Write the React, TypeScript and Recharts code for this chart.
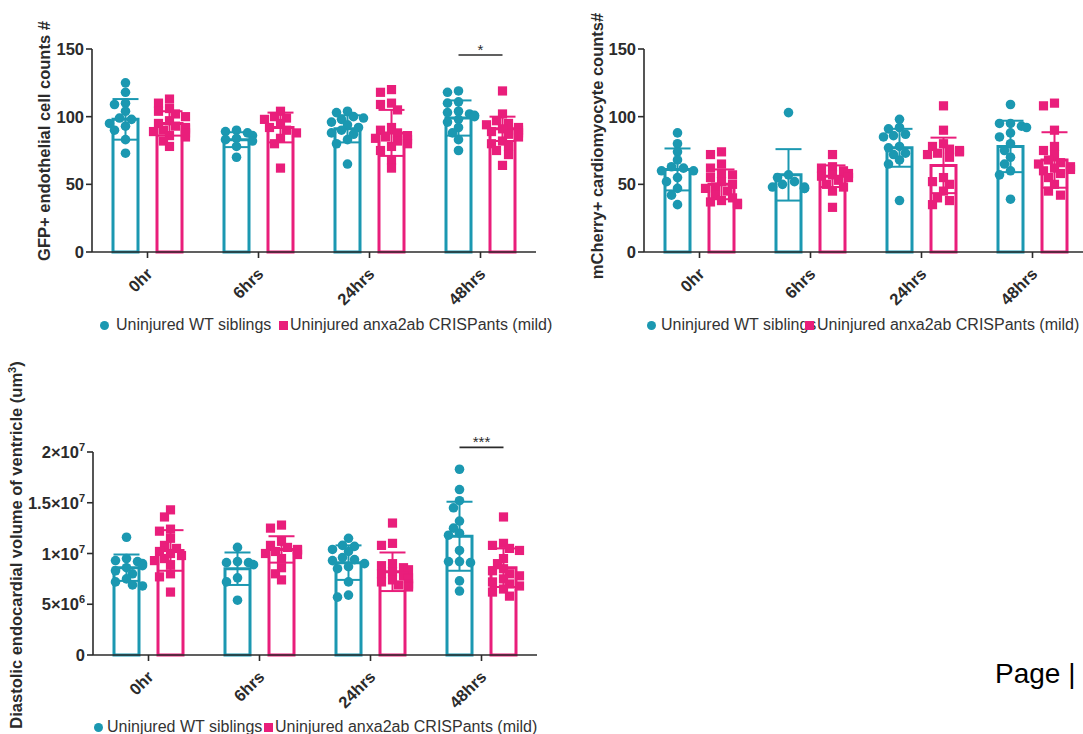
import React from 'react';
import { ComposedChart, Bar, Scatter, XAxis, YAxis, ErrorBar, ReferenceLine } from 'recharts';

const TEAL = '#1b98b1';
const PINK = '#e91e7b';
const INK = '#2b2b2b';
const FONT = 'Arial, "Liberation Sans", Helvetica, sans-serif';

const TIMEPOINTS = ['0hr', '6hrs', '24hrs', '48hrs'];

// GFP+ endothelial cell counts
const GFP_WT_MEAN = [98, 83, 91, 99];
const GFP_WT_SD = [15, 5.5, 10, 13];
const GFP_MUT_MEAN = [95, 92, 88, 91];
const GFP_MUT_SD = [9, 11, 17, 9];
const GFP_WT_POINTS = [
  [125, 118, 110, 109, 104, 99, 98, 95, 93, 90, 83, 73],
  [90, 89, 88, 86, 84, 83, 82, 78, 70],
  [104, 103, 100, 99, 98, 96, 94, 92, 90, 88, 87, 83, 80, 65],
  [119, 118, 111, 110, 104, 103, 102, 101, 100, 98, 96, 92, 88, 83, 75],
];
const GFP_MUT_POINTS = [
  [113, 110, 106, 104, 102, 100, 97, 95, 93, 92, 91, 90, 89, 88, 86, 85, 82, 78],
  [104, 100, 99, 98, 95, 92, 90, 88, 84, 80, 62],
  [120, 118, 110, 109, 105, 92, 90, 88, 86, 85, 84, 83, 82, 80, 78, 75, 68, 62],
  [119, 102, 97, 95, 94, 92, 91, 90, 89, 88, 87, 85, 82, 80, 78, 75, 72, 64],
];

// mCherry+ cardiomyocyte counts
const MCH_WT_MEAN = [61, 57, 77, 78];
const MCH_WT_SD = [15.5, 19, 14, 19];
const MCH_MUT_MEAN = [50, 56, 64, 68];
const MCH_MUT_SD = [11, 8, 20.5, 20.5];
const MCH_WT_POINTS = [
  [88, 80, 74, 68, 63, 62, 60, 60, 55, 52, 47, 42, 35],
  [103, 57, 55, 52, 50, 48, 48, 47, 47],
  [98, 92, 91, 87, 86, 85, 78, 77, 73, 72, 68, 65, 38],
  [109, 95, 95, 93, 92, 88, 85, 80, 75, 70, 65, 60, 57, 39],
];
const MCH_MUT_POINTS = [
  [74, 72, 65, 62, 58, 57, 55, 52, 50, 48, 47, 45, 42, 40, 38, 37, 36, 35],
  [72, 63, 62, 60, 58, 57, 56, 55, 53, 50, 48, 45, 33],
  [108, 90, 80, 78, 76, 75, 74, 73, 72, 70, 55, 52, 50, 45, 40, 38, 35],
  [110, 108, 90, 78, 75, 72, 68, 66, 65, 63, 62, 61, 60, 58, 55, 50, 45, 42],
];

// diastolic endocardial volume, in millions of um3
const VOL_WT_MEAN = [8.6, 8.5, 9.1, 11.7];
const VOL_WT_SD = [1.3, 1.6, 1.7, 3.4];
const VOL_MUT_MEAN = [10.3, 10.4, 8.2, 8.6];
const VOL_MUT_SD = [2.0, 1.3, 1.9, 1.9];
const VOL_WT_POINTS = [
  [11.6, 9.5, 9.3, 9.2, 9.0, 8.8, 8.6, 8.3, 8.0, 7.5, 7.2, 6.9, 6.8],
  [10.6, 9.2, 9.1, 9.1, 8.9, 7.6, 7.2, 5.4],
  [11.5, 10.8, 10.7, 10.4, 10.2, 9.6, 9.4, 9.3, 9.0, 8.7, 8.5, 7.2, 5.9, 5.7],
  [18.3, 16.3, 15.2, 14.5, 13.2, 12.5, 12.0, 11.8, 10.3, 9.2, 9.2, 9.1, 7.3, 6.3],
];
const VOL_MUT_POINTS = [
  [14.3, 13.6, 12.4, 12.2, 11.5, 10.8, 10.5, 10.2, 10.0, 9.8, 9.5, 9.3, 8.9, 8.0, 7.7, 6.2],
  [12.8, 12.5, 11.2, 10.8, 10.6, 10.4, 10.3, 10.2, 10.0, 9.9, 9.5, 8.6, 8.0, 7.4],
  [13.0, 11.0, 10.8, 9.0, 8.8, 8.6, 8.4, 8.2, 8.0, 7.8, 7.6, 7.5, 7.4, 7.2, 7.0, 6.9, 6.8, 6.7],
  [13.6, 11.0, 10.8, 10.5, 10.3, 9.5, 9.0, 8.5, 8.3, 8.0, 7.8, 7.5, 7.2, 7.0, 6.8, 6.5, 6.2, 5.8],
];

const BAND = 111; // px per timepoint
const BAR = 25;
const GAP = 19;
const SIDE = (BAR + GAP) / 2 / BAND; // bar centre offset in band units
const X_AXIS_H = 62;

// spread equal-ish values sideways so dots don't sit on top of each other
function swarm(values: number[], centre: number, pxPerUnit: number) {
  const offsets = [0, -6, 6, -11, 11, -16, 16];
  const placed: { px: number; py: number }[] = [];
  return [...values]
    .sort((a, b) => b - a)
    .map((v) => {
      const py = v * pxPerUnit;
      let chosen = offsets[offsets.length - 1];
      for (const o of offsets) {
        if (placed.every((p) => Math.hypot(p.px - o, p.py - py) >= 7.5)) {
          chosen = o;
          break;
        }
      }
      placed.push({ px: chosen, py });
      return { x: centre + chosen / BAND, y: v };
    });
}

const Dot = (p: any) => <circle cx={p.cx} cy={p.cy} r={4.8} fill={TEAL} />;
const Sq = (p: any) => <rect x={p.cx - 4.6} y={p.cy - 4.6} width={9.2} height={9.2} fill={PINK} />;

const XTick = ({ x, y, payload }: any) => (
  <text
    x={x + 6}
    y={y + 15}
    transform={`rotate(-45 ${x + 6} ${y + 15})`}
    textAnchor="end"
    fontSize={16.5}
    fontWeight="bold"
    fill={INK}
  >
    {payload.value}
  </text>
);

const VolTick = ({ x, y, payload }: any) => {
  const v = payload.value;
  if (v === 0) {
    return (
      <text x={x} y={y} dy={6} textAnchor="end" fontSize={16.5} fontWeight="bold" fill={INK}>
        0
      </text>
    );
  }
  const raw = v * 1e6;
  const exp = Math.floor(Math.log10(raw));
  const mant = +(raw / Math.pow(10, exp)).toFixed(1);
  return (
    <text x={x} y={y} dy={6} textAnchor="end" fontSize={16.5} fontWeight="bold" fill={INK}>
      {mant}×10
      <tspan dy={-7} fontSize={11}>
        {exp}
      </tspan>
    </text>
  );
};

type PanelProps = {
  left: number;
  top: number;
  yWidth: number;
  marginTop: number;
  domainMax: number;
  yTicks: number[];
  tick?: any;
  wtMean: number[];
  wtSd: number[];
  mutMean: number[];
  mutSd: number[];
  wtPts: number[][];
  mutPts: number[][];
  sig?: { y: number; text: string };
};

const Panel = (p: PanelProps) => {
  const width = p.yWidth + BAND * 4 + 24;
  const height = p.marginTop + 203 + X_AXIS_H;
  const pxPerUnit = 203 / p.domainMax;
  const data = TIMEPOINTS.map((t, i) => ({
    cat: t,
    wt: p.wtMean[i],
    wtSd: p.wtSd[i],
    mut: p.mutMean[i],
    mutSd: p.mutSd[i],
  }));
  const wtDots = p.wtPts.flatMap((vals, i) => swarm(vals, i - SIDE, pxPerUnit));
  const mutDots = p.mutPts.flatMap((vals, i) => swarm(vals, i + SIDE, pxPerUnit));

  return (
    <div style={{ position: 'absolute', left: p.left, top: p.top }}>
      <ComposedChart
        width={width}
        height={height}
        data={data}
        barGap={GAP}
        margin={{ top: p.marginTop, right: 24, bottom: 0, left: 0 }}
      >
        <XAxis
          xAxisId="cat"
          dataKey="cat"
          interval={0}
          height={X_AXIS_H}
          tickSize={6}
          tick={<XTick />}
          axisLine={{ stroke: INK, strokeWidth: 1.6 }}
          tickLine={{ stroke: INK, strokeWidth: 1.6 }}
        />
        <XAxis xAxisId="err" dataKey="cat" hide />
        <XAxis xAxisId="pts" type="number" dataKey="x" domain={[-0.5, 3.5]} allowDataOverflow hide />
        <YAxis
          width={p.yWidth}
          domain={[0, p.domainMax]}
          ticks={p.yTicks}
          interval={0}
          tickSize={6}
          tick={p.tick || { fontSize: 16.5, fontWeight: 'bold', fill: INK }}
          axisLine={{ stroke: INK, strokeWidth: 1.6 }}
          tickLine={{ stroke: INK, strokeWidth: 1.6 }}
        />
        <Bar xAxisId="cat" dataKey="wt" barSize={BAR} fill="#fff" stroke={TEAL} strokeWidth={3} isAnimationActive={false} />
        <Bar xAxisId="cat" dataKey="mut" barSize={BAR} fill="#fff" stroke={PINK} strokeWidth={3} isAnimationActive={false} />
        <Scatter xAxisId="pts" data={wtDots} dataKey="y" shape={Dot} isAnimationActive={false} />
        <Scatter xAxisId="pts" data={mutDots} dataKey="y" shape={Sq} isAnimationActive={false} />
        <Bar xAxisId="err" dataKey="wt" barSize={BAR} fill="none" stroke="none" isAnimationActive={false}>
          <ErrorBar dataKey="wtSd" width={13} stroke={TEAL} strokeWidth={2} direction="y" />
        </Bar>
        <Bar xAxisId="err" dataKey="mut" barSize={BAR} fill="none" stroke="none" isAnimationActive={false}>
          <ErrorBar dataKey="mutSd" width={13} stroke={PINK} strokeWidth={2} direction="y" />
        </Bar>
        {p.sig && (
          <ReferenceLine
            xAxisId="pts"
            ifOverflow="visible"
            segment={[
              { x: 3 - SIDE, y: p.sig.y },
              { x: 3 + SIDE, y: p.sig.y },
            ]}
            stroke={INK}
            strokeWidth={1.6}
            label={{ value: p.sig.text, position: 'top', offset: 0, fontSize: 15, fill: INK }}
          />
        )}
      </ComposedChart>
    </div>
  );
};

const Title = ({ x, y, children }: { x: number; y: number; children: React.ReactNode }) => (
  <div
    style={{
      position: 'absolute',
      left: x,
      top: y,
      transform: 'translate(-50%, -50%) rotate(-90deg)',
      whiteSpace: 'nowrap',
      fontSize: 16.5,
      fontWeight: 'bold',
      color: INK,
      lineHeight: '18px',
    }}
  >
    {children}
  </div>
);

const LegendRow = ({ y, dotX, text1X, sqX, text2X }: { y: number; dotX: number; text1X: number; sqX: number; text2X: number }) => {
  const txt: React.CSSProperties = {
    position: 'absolute',
    top: y - 9,
    fontSize: 16,
    lineHeight: '18px',
    color: '#333',
    whiteSpace: 'nowrap',
  };
  return (
    <>
      <div style={{ position: 'absolute', left: dotX - 4.5, top: y - 4.5, width: 9, height: 9, borderRadius: '50%', background: TEAL }} />
      <div style={{ ...txt, left: text1X }}>Uninjured WT siblings</div>
      <div style={{ position: 'absolute', left: sqX, top: y - 4.5, width: 9, height: 9, background: PINK }} />
      <div style={{ ...txt, left: text2X }}>Uninjured anxa2ab CRISPants (mild)</div>
    </>
  );
};

export default function App() {
  return (
    <div
      style={{
        position: 'absolute',
        left: 0,
        top: 0,
        width: 1083,
        height: 734,
        overflow: 'hidden',
        background: '#fff',
        fontFamily: FONT,
      }}
    >
      <Panel
        left={0}
        top={0}
        yWidth={92}
        marginTop={49}
        domainMax={150}
        yTicks={[0, 50, 100, 150]}
        wtMean={GFP_WT_MEAN}
        wtSd={GFP_WT_SD}
        mutMean={GFP_MUT_MEAN}
        mutSd={GFP_MUT_SD}
        wtPts={GFP_WT_POINTS}
        mutPts={GFP_MUT_POINTS}
        sig={{ y: 145.6, text: '*' }}
      />
      <Title x={44} y={141}>GFP+ endothelial cell counts #</Title>
      <LegendRow y={325} dotX={104} text1X={116} sqX={279} text2X={290} />

      <Panel
        left={560}
        top={0}
        yWidth={84}
        marginTop={49}
        domainMax={150}
        yTicks={[0, 50, 100, 150]}
        wtMean={MCH_WT_MEAN}
        wtSd={MCH_WT_SD}
        mutMean={MCH_MUT_MEAN}
        mutSd={MCH_MUT_SD}
        wtPts={MCH_WT_POINTS}
        mutPts={MCH_MUT_POINTS}
      />
      <Title x={597} y={146}>mCherry+ cardiomyocyte counts#</Title>
      <LegendRow y={325} dotX={651} text1X={661} sqX={805} text2X={817} />

      <Panel
        left={0}
        top={400}
        yWidth={93}
        marginTop={52}
        domainMax={20}
        yTicks={[0, 5, 10, 15, 20]}
        tick={<VolTick />}
        wtMean={VOL_WT_MEAN}
        wtSd={VOL_WT_SD}
        mutMean={VOL_MUT_MEAN}
        mutSd={VOL_MUT_SD}
        wtPts={VOL_WT_POINTS}
        mutPts={VOL_MUT_POINTS}
        sig={{ y: 20.46, text: '***' }}
      />
      <Title x={14} y={545}>
        Diastolic endocardial volume of ventricle (um<sup style={{ fontSize: 11 }}>3</sup>)
      </Title>
      <LegendRow y={727} dotX={98} text1X={107} sqX={264} text2X={275} />

      <div style={{ position: 'absolute', left: 995, top: 660, fontSize: 28, lineHeight: '28px', color: '#000', whiteSpace: 'nowrap' }}>
        Page |
      </div>
    </div>
  );
}
